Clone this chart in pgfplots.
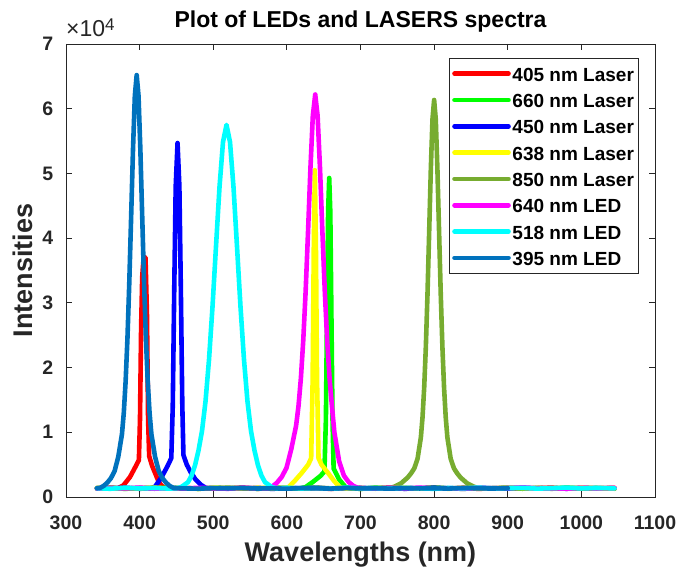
\documentclass[border=0pt]{standalone}
\usepackage{fontspec}
\setmainfont{Liberation Sans}
\usepackage{pgfplots}
\pgfplotsset{compat=1.18}
\definecolor{mred}{rgb}{1,0,0}
\definecolor{mgreen}{rgb}{0,1,0}
\definecolor{mblue}{rgb}{0,0,1}
\definecolor{myellow}{rgb}{1,1,0}
\definecolor{molive}{rgb}{0.466,0.674,0.188}
\definecolor{mmagenta}{rgb}{1,0,1}
\definecolor{mcyan}{rgb}{0,1,1}
\definecolor{msteel}{rgb}{0,0.447,0.741}
\definecolor{axgray}{rgb}{0.15,0.15,0.15}
\begin{document}
\begin{tikzpicture}
\begin{axis}[
 name=ax,
 scale only axis, width=589pt, height=453pt,
 xmin=300, xmax=1100, ymin=0, ymax=70000,
 xtick={300,400,500,600,700,800,900,1000,1100},
 xticklabels={300,400,500,600,700,800,900,1000,1100},
 ytick={0,10000,20000,30000,40000,50000,60000,70000},
 yticklabels={0,1,2,3,4,5,6,7},
 scaled y ticks=false, scaled x ticks=false,
 tick align=inside, xtick pos=both, ytick pos=both,
 xticklabel pos=lower, yticklabel pos=left,
 major tick length=6pt,
 tick style={axgray, line width=0.8pt},
 axis line style={axgray, line width=0.8pt},
 xticklabel style={font=\fontsize{19.5}{19.5}\selectfont\bfseries, text=axgray, inner sep=0pt, anchor=north, yshift=-18.5pt},
 yticklabel style={font=\fontsize{19.5}{19.5}\selectfont\bfseries, text=axgray, inner sep=0pt, anchor=east, xshift=-12.5pt},
 title={Plot of LEDs and LASERS spectra},
 title style={font=\fontsize{23}{23}\selectfont\bfseries, at={(axis description cs:0.5,1.0236)}, anchor=base, inner sep=0pt},
 xlabel={Wavelengths (nm)},
 xlabel style={font=\fontsize{27}{27}\selectfont\bfseries, text=axgray, at={(axis description cs:0.5,-0.1428)}, anchor=base, inner sep=0pt},
 ylabel={Intensities},
 ylabel style={font=\fontsize{27}{27}\selectfont\bfseries, text=axgray, at={(axis description cs:-0.073,0.5)}, anchor=center, inner sep=0pt},
 every axis plot/.append style={line width=4.6pt, line join=round, line cap=round},
 legend cell align=left,
 legend image code/.code={\draw[#1] (0pt,0pt) -- (54pt,0pt);},
 legend style={at={(axis description cs:0.97283,0.96909)}, anchor=north east,
   draw=axgray, line width=0.8pt, fill=white,
   font=\fontsize{19}{19}\selectfont\bfseries,
   inner xsep=3pt, inner ysep=3.9pt, row sep=3.4pt,
   nodes={inner xsep=1.65pt, inner ysep=0pt, text height=18.9pt, text depth=4pt}},
]
% 405 nm Laser
\addplot[mred] coordinates {(342,1380)(352,1300)(362,1420)(370,1330)(378,1800)(387,3100)(394,4600)(399,5700)(400.5,12000)(402,26000)(403.5,34000)(405.5,37100)(408,37000)(410,28000)(411.5,12000)(413,6300)(417,4800)(421,3700)(425,2600)(428,2000)(433,1450)(440,1320)(460,1400)(480,1290)(500,1380)(520,1330)(540,1450)(560,1270)(580,1360)(600,1420)(620,1300)(640,1390)(660,1250)(680,1440)(700,1340)(720,1310)(740,1460)(760,1280)(780,1370)(800,1400)(820,1320)(840,1430)(860,1260)(880,1350)(900,1410)(920,1300)(940,1380)(960,1440)(980,1290)(1000,1360)(1020,1330)(1045,1420)};
\addlegendentry{405 nm Laser}
% 660 nm Laser
\addplot[mgreen] coordinates {(342,1300)(360,1430)(380,1260)(400,1390)(420,1340)(440,1460)(460,1310)(480,1280)(500,1420)(520,1350)(540,1400)(560,1270)(580,1450)(600,1330)(615,1290)(625,1500)(635,2300)(645,3200)(651,3900)(653,12000)(654.5,28000)(656,44000)(657.5,49300)(659,44000)(660.5,28000)(662,12000)(663.5,4400)(671,2700)(680,1500)(690,1360)(700,1250)(720,1440)(740,1320)(760,1380)(780,1300)(800,1470)(820,1340)(840,1260)(860,1400)(880,1350)(900,1430)(920,1280)(940,1370)(960,1300)(980,1450)(1000,1320)(1020,1390)(1045,1280)};
\addlegendentry{660 nm Laser}
% 450 nm Laser
\addplot[mblue] coordinates {(342,1380)(360,1320)(380,1440)(400,1270)(415,1350)(421,1600)(430,3100)(438,4800)(443,6000)(445,14000)(447,32000)(449,48000)(451.5,54700)(454,48000)(456,32000)(458,14000)(459.5,6500)(464,5000)(469,3900)(476,2700)(483,1900)(490,1400)(500,1330)(520,1370)(540,1300)(560,1420)(580,1260)(600,1390)(620,1340)(640,1450)(660,1280)(680,1360)(700,1430)(720,1310)(740,1400)(760,1270)(780,1350)(800,1440)(820,1320)(840,1290)(860,1410)(880,1360)(900,1300)(920,1450)(940,1330)(960,1390)(980,1270)(1000,1420)(1020,1350)(1045,1310)};
\addlegendentry{450 nm Laser}
% 638 nm Laser
\addplot[myellow] coordinates {(342,1420)(360,1290)(380,1370)(400,1330)(420,1450)(440,1300)(460,1380)(480,1260)(500,1410)(520,1340)(540,1290)(560,1430)(580,1350)(595,1400)(602,1500)(610,2400)(620,3700)(629,5000)(633,6000)(635,18000)(636.5,38000)(638,50500)(639.5,38000)(641,18000)(643,6000)(647,5000)(656,3700)(664,2500)(672,1500)(680,1330)(700,1410)(720,1280)(740,1360)(760,1440)(780,1310)(800,1380)(820,1270)(840,1420)(860,1340)(880,1300)(900,1460)(920,1350)(940,1290)(960,1400)(980,1320)(1000,1430)(1020,1370)(1045,1300)};
\addlegendentry{638 nm Laser}
% 850 nm Laser
\addplot[molive] coordinates {(342,1340)(360,1450)(380,1280)(400,1360)(420,1430)(440,1310)(460,1400)(480,1270)(500,1350)(520,1440)(540,1320)(560,1290)(580,1410)(600,1360)(620,1300)(640,1450)(660,1330)(680,1390)(700,1270)(720,1420)(740,1350)(746,1600)(755,2100)(764,3000)(768.5,3630)(773,4410)(777.5,5910)(782,9210)(784.25,12330)(786.5,16890)(788.75,23190)(791,31350)(793.25,40890)(795.5,50550)(797.75,58350)(800,61350)(802.25,58350)(804.5,50550)(806.75,40890)(809,31350)(811.25,23190)(813.5,16890)(815.75,12330)(818,9210)(822.5,5910)(827,4410)(831.5,3630)(836,3000)(845,2100)(854,1600)(860,1360)(880,1300)(900,1420)(920,1340)(940,1390)(960,1270)(980,1440)(1000,1310)(1020,1380)(1045,1350)};
\addlegendentry{850 nm Laser}
% 640 nm LED
\addplot[mmagenta] coordinates {(342,1290)(360,1400)(380,1330)(400,1460)(420,1280)(440,1370)(460,1310)(480,1420)(500,1350)(520,1270)(540,1440)(560,1320)(573.5,1350)(580,1600)(586.5,2200)(593,3100)(599.5,4500)(606,7400)(612.5,11000)(615.75,14000)(619,18300)(622.25,24200)(625.5,31800)(628.75,41000)(632,50800)(635.25,58900)(638.5,62200)(641.75,58900)(645,50800)(648.25,41000)(651.5,31800)(654.75,24200)(658,18300)(661.25,14000)(664.5,10000)(671,5500)(677.5,3300)(684,2300)(690.5,1700)(697,1400)(705,1350)(720,1290)(740,1410)(760,1340)(780,1450)(800,1300)(820,1370)(840,1260)(860,1430)(880,1330)(900,1390)(920,1460)(940,1300)(960,1360)(980,1280)(1000,1420)(1020,1340)(1045,1400)};
\addlegendentry{640 nm LED}
% 518 nm LED
\addplot[mcyan] coordinates {(342,1360)(360,1270)(380,1440)(400,1320)(420,1390)(440,1300)(450,1350)(456,1500)(461,1900)(465.75,2300)(470.5,3300)(475.25,4900)(480,7200)(484.75,10220)(489.5,14770)(494.25,21230)(499,29425)(503.75,38750)(508.5,47900)(513.25,54860)(518,57500)(522.75,54860)(527.5,47900)(532.25,38750)(537,29425)(541.75,21230)(546.5,14770)(551.25,10220)(556,7200)(560.75,4900)(565.5,3300)(570.25,2300)(575,1900)(580,1500)(586,1350)(600,1430)(620,1310)(640,1390)(660,1280)(680,1450)(700,1330)(720,1370)(740,1290)(760,1420)(780,1350)(800,1260)(820,1400)(840,1340)(860,1460)(880,1300)(900,1380)(920,1420)(940,1290)(960,1370)(980,1450)(1000,1320)(1020,1400)(1045,1340)};
\addlegendentry{518 nm LED}
% 395 nm LED
\addplot[msteel] coordinates {(342,1350)(346,1400)(351,1700)(356,2200)(361,2900)(366,4000)(371,6200)(376,9700)(378.5,13000)(381,17900)(383.5,24600)(386,33300)(388.5,43400)(391,53700)(393.5,62000)(396,65200)(398.5,62000)(401,53700)(403.5,43400)(406,33300)(408.5,24600)(411,17900)(413.5,13000)(416,9700)(421,6200)(426,4000)(431,2900)(436,2200)(441,1700)(446,1400)(460,1330)(480,1290)(500,1370)(520,1320)(540,1400)(560,1310)(580,1350)(600,1280)(620,1390)(640,1340)(660,1300)(680,1410)(700,1330)(720,1360)(740,1290)(760,1380)(780,1320)(800,1350)(820,1300)(840,1400)(860,1340)(880,1310)(900,1370)};
\addlegendentry{395 nm LED}
\end{axis}
\node[anchor=base west, inner sep=0pt, font=\fontsize{23}{23}\selectfont, text=axgray] at ([yshift=7.3pt]ax.north west) {×10\raisebox{6.5pt}{\fontsize{17}{17}\selectfont 4}};
\pgfresetboundingbox
\path[use as bounding box] ([xshift=-66pt,yshift=-72pt]ax.south west) rectangle ([xshift=26pt,yshift=44pt]ax.north east);
\end{tikzpicture}
\end{document}
